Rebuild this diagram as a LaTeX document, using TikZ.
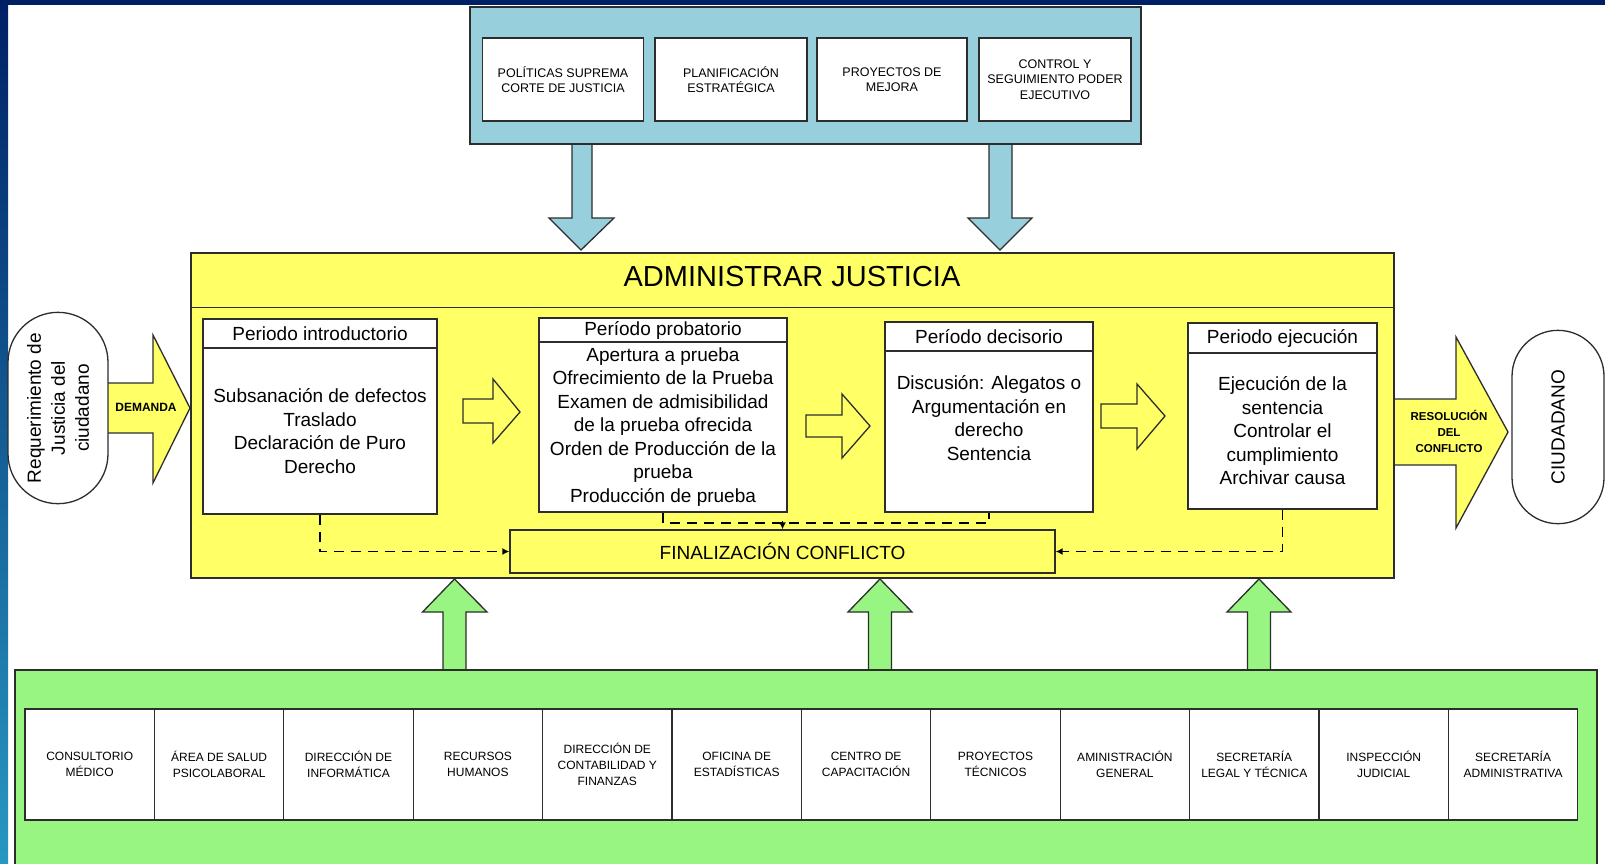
\documentclass[tikz,border=0pt]{standalone}
\usepackage{fontspec}
\setmainfont{Liberation Sans}
\usetikzlibrary{arrows.meta,shapes.misc}

\definecolor{slidenavy}{RGB}{0,32,102}
\definecolor{slideblue}{RGB}{0,56,160}
\definecolor{slideteal}{RGB}{40,152,192}
\definecolor{cyanfill}{RGB}{152,207,221}
\definecolor{yellowfill}{RGB}{255,255,102}
\definecolor{greenfill}{RGB}{152,245,130}
\definecolor{edge}{RGB}{45,45,45}

\tikzset{
    panel/.style={draw=edge, line width=1.4pt},
    box/.style={draw=edge, line width=1.3pt, fill=white, align=center, inner sep=1pt},
    topbox/.style={box, minimum height=83, font=\fontsize{12.5}{15.5}\selectfont},
    cell/.style={box, minimum width=129.4, minimum height=111, font=\fontsize{12}{16}\selectfont},
    phasehead/.style={box, font=\fontsize{19}{23}\selectfont},
    phasebody/.style={box, font=\fontsize{19}{23.5}\selectfont},
    blockarrow/.style={draw=edge, line width=1.3pt, line join=miter},
    dashlink/.style={draw=black, dash pattern=on 10pt off 7pt, line width=1.7pt},
    dashto/.style={dashlink, -{Latex[length=7pt,width=7pt]}},
    terminal/.style={draw=edge, line width=1.3pt, fill=white, rounded rectangle, rotate=90, align=center},
}

\begin{document}
\begin{tikzpicture}[x=1pt, y=-1pt]
    \useasboundingbox (0,0) rectangle (1605,863);
    % slide background
    \fill[white] (0,0) rectangle (1605,863);
    \fill[slidenavy] (0,0) rectangle (1605,5);
    \shade[top color=slidenavy, middle color=slideblue, bottom color=slideteal] (0,0) rectangle (8,863);

    % block arrows
    \draw[blockarrow, fill=cyanfill] (572,144) -- (572,218) -- (549,218) -- (581,250) -- (614,218) -- (592,218) -- (592,144);
    \draw[blockarrow, fill=cyanfill] (989,144) -- (989,218) -- (968,218) -- (1000,250) -- (1032,218) -- (1012,218) -- (1012,144);
    \draw[blockarrow, fill=greenfill] (443,670) -- (443,612) -- (422.5,612) -- (454.5,579) -- (487,612) -- (466,612) -- (466,670);
    \draw[blockarrow, fill=greenfill] (868.5,670) -- (868.5,612) -- (848,612) -- (880,579) -- (912,612) -- (891.5,612) -- (891.5,670);
    \draw[blockarrow, fill=greenfill] (1247.5,670) -- (1247.5,612) -- (1227,612) -- (1259,579) -- (1291,612) -- (1270.5,612) -- (1270.5,670);
    \draw[blockarrow, fill=yellowfill] (108,383) -- (153,383) -- (153,335) -- (190,408) -- (153,483) -- (153,433) -- (108,433);
    \draw[blockarrow, fill=yellowfill] (1394,399) -- (1456,399) -- (1456,337) -- (1508,432) -- (1456,528) -- (1456,465) -- (1394,465);
    \node[font=\bfseries\fontsize{12}{15}\selectfont] (demanda) at (146,407) {DEMANDA};
    \node[font=\bfseries\fontsize{11.5}{16}\selectfont, align=center] (resolucion) at (1449,431) {RESOLUCIÓN\\DEL\\CONFLICTO};

    % citizen
    \node[terminal, minimum width=198, minimum height=100, font=\fontsize{19}{24}\selectfont] (req) at (58,408) {Requerimiento de\\Justicia del\\ciudadano};
    \node[terminal, minimum width=200, minimum height=92, font=\fontsize{19}{23}\selectfont] (ciudadano) at (1558,427) {CIUDADANO};

    % guidelines
    \node[panel, fill=cyanfill, minimum width=671, minimum height=137] (guide) at (805.5,75.5) {};
    \node[topbox, minimum width=161] (politicas) at (563,79.5) {POLÍTICAS SUPREMA\\CORTE DE JUSTICIA};
    \node[topbox, minimum width=152] (planif) at (731,79.5) {PLANIFICACIÓN\\ESTRATÉGICA};
    \node[topbox, minimum width=150] (proyectos) at (892,79.5) {PROYECTOS DE\\MEJORA};
    \node[topbox, minimum width=152] (control) at (1055,79.5) {CONTROL Y\\SEGUIMIENTO PODER\\EJECUTIVO};

    % main process
    \node[panel, fill=yellowfill, minimum width=1203, minimum height=325] (admin) at (792.5,415.5) {};
    \draw[panel] ([yshift=-55pt]admin.north west) -- ([yshift=-55pt]admin.north east);
    \node[font=\fontsize{29}{32}\selectfont] (title) at (792,277) {ADMINISTRAR JUSTICIA};

    \node[phasehead, minimum width=234, minimum height=29] (intro-head) at (320,333.5) {Periodo introductorio};
    \node[phasebody, minimum width=234, minimum height=166] (intro) at (320,431) {Subsanación de defectos\\Traslado\\Declaración de Puro\\Derecho};
    \node[phasehead, minimum width=248, minimum height=24] (prob-head) at (663,330) {Período probatorio};
    \node[phasebody, minimum width=248, minimum height=170] (prob) at (663,427) {Apertura a prueba\\Ofrecimiento de la Prueba\\Examen de admisibilidad\\de la prueba ofrecida\\Orden de Producción de la\\prueba\\Producción de prueba};
    \node[phasehead, minimum width=208, minimum height=29] (dec-head) at (989,336.5) {Período decisorio};
    \node[phasebody, minimum width=208, minimum height=161] (dec) at (989,431.5) {};
    \node[font=\fontsize{19}{23.5}\selectfont, align=center] (dec-txt) at (989,418) {Discusión: Alegatos o\\Argumentación en\\derecho\\Sentencia};
    \node[phasehead, minimum width=189, minimum height=30] (ejec-head) at (1282.5,338) {Periodo ejecución};
    \node[phasebody, minimum width=189, minimum height=156] (ejec) at (1282.5,431) {Ejecución de la\\sentencia\\Controlar el\\cumplimiento\\Archivar causa};

    \draw[blockarrow, fill=yellowfill] (463,399) -- (493,399) -- (493,379) -- (520,412) -- (493,443) -- (493,423) -- (463,423) -- cycle;
    \draw[blockarrow, fill=yellowfill] (806,415) -- (842,415) -- (842,394) -- (870,426) -- (842,458) -- (842,437) -- (806,437) -- cycle;
    \draw[blockarrow, fill=yellowfill] (1101,404) -- (1137,404) -- (1137,384) -- (1165,416) -- (1137,449) -- (1137,428) -- (1101,428) -- cycle;

    \node[box, fill=yellowfill, minimum width=545, minimum height=43, font=\fontsize{19}{22}\selectfont] (fin) at (782.5,551.5) {FINALIZACIÓN CONFLICTO};

    \draw[dashto] (intro.south) |- (fin.west);
    \draw[dashlink] (prob.south) -- ++(0,10) -| (dec.south);
    \draw[dashto] ([yshift=8pt]fin.north) -- (fin.north);
    \draw[dashto] (ejec.south) |- (fin.east);

    % support units
    \node[panel, fill=greenfill, minimum width=1582, minimum height=210] (support) at (806,775) {};
    \node[cell] (medico) at (89.7,764.5) {CONSULTORIO\\MÉDICO};
    \node[cell] (salud) at (219.1,764.5) {ÁREA DE SALUD\\PSICOLABORAL};
    \node[cell] (informatica) at (348.5,764.5) {DIRECCIÓN DE\\INFORMÁTICA};
    \node[cell] (rrhh) at (477.9,764.5) {RECURSOS\\HUMANOS};
    \node[cell] (finanzas) at (607.3,764.5) {DIRECCIÓN DE\\CONTABILIDAD Y\\FINANZAS};
    \node[cell] (estadisticas) at (736.7,764.5) {OFICINA DE\\ESTADÍSTICAS};
    \node[cell] (capacitacion) at (866.1,764.5) {CENTRO DE\\CAPACITACIÓN};
    \node[cell] (tecnicos) at (995.5,764.5) {PROYECTOS\\TÉCNICOS};
    \node[cell] (general) at (1124.9,764.5) {AMINISTRACIÓN\\GENERAL};
    \node[cell] (legal) at (1254.3,764.5) {SECRETARÍA\\LEGAL Y TÉCNICA};
    \node[cell] (inspeccion) at (1383.7,764.5) {INSPECCIÓN\\JUDICIAL};
    \node[cell] (secadmin) at (1513.1,764.5) {SECRETARÍA\\ADMINISTRATIVA};
\end{tikzpicture}
\end{document}
